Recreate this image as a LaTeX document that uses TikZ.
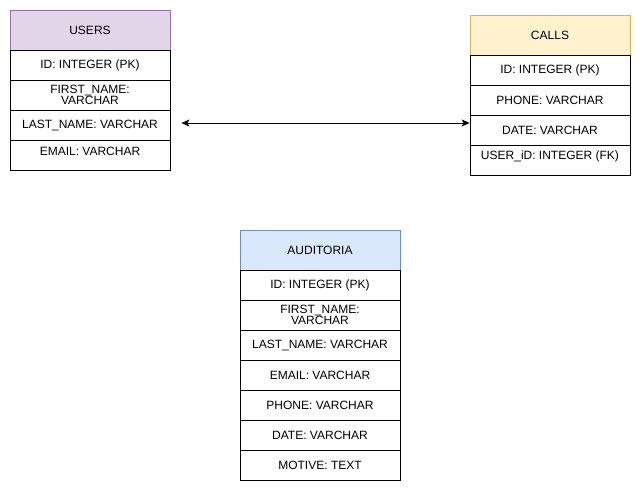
\documentclass[tikz,border=0pt]{standalone}
\usepackage{fontspec}
\setmainfont{Liberation Sans}
\usepackage{tikz}
\usetikzlibrary{arrows.meta}

\definecolor{usersfill}{HTML}{E1D5E7}
\definecolor{usersline}{HTML}{9673A6}
\definecolor{callsfill}{HTML}{FFF2CC}
\definecolor{callsline}{HTML}{D6B656}
\definecolor{auditfill}{HTML}{DAE8FC}
\definecolor{auditline}{HTML}{6C8EBF}

\begin{document}
\begin{tikzpicture}[x=1pt, y=-1pt, line width=0.8pt,
  >={Stealth[length=8pt, width=7pt, inset=2pt]},
  field/.style={draw, fill=white, minimum width=160pt, minimum height=30pt,
    inner sep=0pt, align=center, font=\fontsize{12}{11}\selectfont},
  lastfield/.style={field, text depth=8pt},
  header/.style={field, minimum height=40pt}]
  \useasboundingbox (0,0) rectangle (641,491);

  % users table
  \node[header, fill=usersfill, draw=usersline] (users) at (90,30) {USERS};
  \node[field] (users-1) at (90,65) {ID: INTEGER (PK)};
  \node[field] (users-2) at (90,95) {FIRST\_NAME:\\VARCHAR};
  \node[field] (users-3) at (90,125) {LAST\_NAME: VARCHAR};
  \node[lastfield] (users-4) at (90,155) {EMAIL: VARCHAR};

  % calls table
  \node[header, fill=callsfill, draw=callsline] (calls) at (550,35) {CALLS};
  \node[field] (calls-1) at (550,70) {ID: INTEGER (PK)};
  \node[field] (calls-2) at (550,100) {PHONE: VARCHAR};
  \node[field] (calls-3) at (550,130) {DATE: VARCHAR};
  \node[lastfield, text depth=10pt] (calls-4) at (550,160) {USER\_iD: INTEGER (FK)};

  % auditoria table
  \node[header, fill=auditfill, draw=auditline] (audit) at (320,250) {AUDITORIA};
  \node[field] (audit-1) at (320,285) {ID: INTEGER (PK)};
  \node[field] (audit-2) at (320,315) {FIRST\_NAME:\\VARCHAR};
  \node[field] (audit-3) at (320,345) {LAST\_NAME: VARCHAR};
  \node[field] (audit-4) at (320,375) {EMAIL: VARCHAR};
  \node[field] (audit-5) at (320,405) {PHONE: VARCHAR};
  \node[field] (audit-6) at (320,435) {DATE: VARCHAR};
  \node[field] (audit-7) at (320,465) {MOTIVE: TEXT};

  % relation users <-> calls
  \coordinate (link) at ([xshift=11pt, yshift=2pt]users-3.east);
  \draw[<->] (link) -- (link -| calls-3.west);
\end{tikzpicture}
\end{document}
